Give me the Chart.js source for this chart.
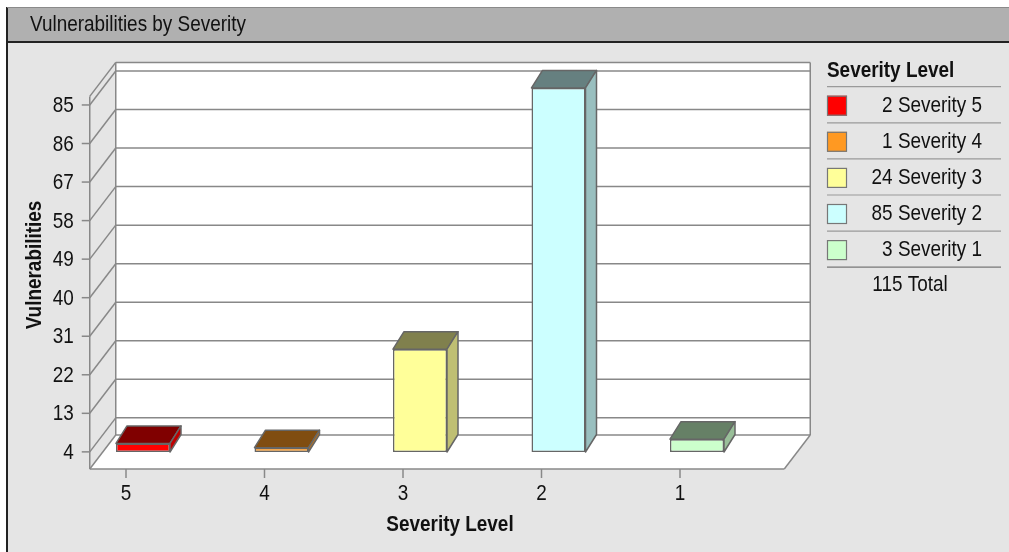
<!DOCTYPE html>
<html>
<head>
<meta charset="utf-8">
<title>Vulnerabilities by Severity</title>
<script src="https://cdn.jsdelivr.net/npm/chart.js@4.4.1/dist/chart.umd.min.js"></script>
<style>
html, body { margin: 0; padding: 0; background: #fff; }
canvas { display: block; }
</style>
</head>
<body>
<canvas id="myChart" width="1009" height="552"></canvas>
<script>
// data
var severityLabels = ['5', '4', '3', '2', '1'];
var severityCounts = [2, 1, 24, 85, 3];
var legendNames = ['Severity 5', 'Severity 4', 'Severity 3', 'Severity 2', 'Severity 1'];
var yTickValues = [4, 13, 22, 31, 40, 49, 58, 67, 76, 85];
var yTickLabels = ['4', '13', '22', '31', '40', '49', '58', '67', '86', '85'];
var barColors = ['#ff0000', '#ff9922', '#ffff99', '#ccffff', '#ccffcc'];

var FONT = '"Liberation Sans", Arial, sans-serif';
var NARROW = 0.86;                // no condensed face installed, squeeze it
var WALL_DX = 13, WALL_DY = 17;   // bars stand halfway between front edge and back wall
var BAR_DX = 11, BAR_DY = 17.5;
var GRID = '#888888';

function shade(hex, f) {
    var n = parseInt(hex.slice(1), 16);
    var r = Math.round(((n >> 16) & 255) * f), g = Math.round(((n >> 8) & 255) * f), b = Math.round((n & 255) * f);
    return 'rgb(' + r + ',' + g + ',' + b + ')';
}

function line(c, x1, y1, x2, y2) {
    c.beginPath(); c.moveTo(x1, y1); c.lineTo(x2, y2); c.stroke();
}

// condensed text
function text(c, str, x, y, align, bold, rot) {
    c.save();
    c.translate(x, y);
    if (rot) c.rotate(rot);
    c.scale(NARROW, 1);
    c.font = (bold ? 'bold ' : '') + '22px ' + FONT;
    c.textAlign = align;
    c.textBaseline = 'middle';
    c.fillStyle = '#111';
    c.fillText(str, 0, 0);
    c.restore();
}

var boxPlugin = {
    id: 'box3d',
    beforeDraw: function (chart) {
        var c = chart.ctx, a = chart.chartArea, yS = chart.scales.y, xS = chart.scales.x;
        var W = chart.width, H = chart.height;
        c.save();
        // panel + title bar
        c.fillStyle = '#ffffff'; c.fillRect(0, 0, W, H);
        c.fillStyle = '#e5e5e5'; c.fillRect(7, 8, W, H);
        c.fillStyle = '#b0b0b0'; c.fillRect(7, 8, W, 34);
        c.fillStyle = '#222'; c.fillRect(6, 7, 2, H);
        c.fillRect(7, 41, W, 2);
        c.fillStyle = '#8a8a8a'; c.fillRect(7, 7, W, 1);
        text(c, 'Vulnerabilities by Severity', 30, 25, 'left');

        // wall frame (bar plane coordinates)
        var wl = a.left + 29, wr = a.right + 31;
        var yTop = a.top, y0 = yS.getPixelForValue(0);
        var bl = wl + WALL_DX, br = wr + WALL_DX, fl = wl - WALL_DX, fr = wr - WALL_DX;

        // back wall
        c.fillStyle = '#ffffff';
        c.fillRect(bl, yTop - WALL_DY, br - bl, y0 - yTop);
        // floor
        c.beginPath();
        c.moveTo(bl, y0 - WALL_DY); c.lineTo(br, y0 - WALL_DY);
        c.lineTo(fr, y0 + WALL_DY); c.lineTo(fl, y0 + WALL_DY);
        c.closePath(); c.fill();

        c.strokeStyle = GRID; c.lineWidth = 1.5;
        // frame edges
        line(c, bl, yTop - WALL_DY, br, yTop - WALL_DY);
        line(c, fl, yTop + WALL_DY, bl, yTop - WALL_DY);
        line(c, bl, yTop - WALL_DY, bl, y0 - WALL_DY);
        line(c, br, yTop - WALL_DY, br, y0 - WALL_DY);
        line(c, fl, yTop + WALL_DY, fl, y0 + WALL_DY);
        line(c, bl, y0 - WALL_DY, br, y0 - WALL_DY);
        line(c, fl, y0 + WALL_DY, bl, y0 - WALL_DY);
        line(c, br, y0 - WALL_DY, fr, y0 + WALL_DY);
        line(c, fl, y0 + WALL_DY, fr, y0 + WALL_DY);

        // value gridlines + ticks
        yTickValues.forEach(function (v, i) {
            var y = yS.getPixelForValue(v);
            line(c, bl, y - WALL_DY, br, y - WALL_DY);
            line(c, fl, y + WALL_DY, bl, y - WALL_DY);
            line(c, fl - 8, y + WALL_DY, fl, y + WALL_DY);
            text(c, yTickLabels[i], fl - 16, y + WALL_DY + 1, 'right');
        });

        // category ticks on the front edge
        severityLabels.forEach(function (lab, i) {
            var x = xS.getPixelForValue(i) - 17;
            line(c, x, y0 + WALL_DY, x, y0 + WALL_DY + 9);
            text(c, lab, x, y0 + WALL_DY + 25, 'center');
        });

        // axis titles
        text(c, 'Severity Level', 450, 525, 'center', true);
        text(c, 'Vulnerabilities', 35, 265, 'center', true, -Math.PI / 2);
        c.restore();
    },
    afterDatasetsDraw: function (chart) {
        var c = chart.ctx, meta = chart.getDatasetMeta(0);
        c.save();
        c.strokeStyle = '#666'; c.lineWidth = 1.5; c.lineJoin = 'round';
        meta.data.forEach(function (bar, i) {
            var p = bar.getProps(['x', 'y', 'base', 'width'], true);
            var x0 = p.x - p.width / 2, x1 = p.x + p.width / 2;
            var col = barColors[i];
            // top face
            c.fillStyle = shade(col, 0.5);
            c.beginPath();
            c.moveTo(x0, p.y); c.lineTo(x0 + BAR_DX, p.y - BAR_DY);
            c.lineTo(x1 + BAR_DX, p.y - BAR_DY); c.lineTo(x1, p.y);
            c.closePath(); c.fill(); c.stroke();
            // side face
            c.fillStyle = shade(col, 0.75);
            c.beginPath();
            c.moveTo(x1, p.y); c.lineTo(x1 + BAR_DX, p.y - BAR_DY);
            c.lineTo(x1 + BAR_DX, p.base - BAR_DY); c.lineTo(x1, p.base);
            c.closePath(); c.fill(); c.stroke();
        });
        c.restore();
    },
    afterDraw: function (chart) {
        var c = chart.ctx;
        var lx = 827, rx = 1001, top = 86.7, step = 36.1;
        c.save();
        text(c, 'Severity Level', lx, 71, 'left', true);
        c.lineWidth = 1.2;
        var total = 0;
        severityCounts.forEach(function (n, i) {
            total += n;
            var y = top + i * step;
            c.strokeStyle = '#9a9a9a';
            line(c, lx, y, rx, y);
            c.fillStyle = barColors[i];
            c.fillRect(lx, y + 9, 20, 20);
            c.strokeStyle = '#777';
            c.strokeRect(lx + 0.5, y + 9.5, 19, 19);
            text(c, n + ' ' + legendNames[i], 982, y + 19, 'right');
        });
        var yEnd = top + severityCounts.length * step;
        c.strokeStyle = '#777';
        line(c, lx, yEnd, rx, yEnd);
        text(c, total + ' Total', 910, yEnd + 18, 'center');
        c.restore();
    }
};

var ctx = document.getElementById('myChart').getContext('2d');
var myChart = new Chart(ctx, {
    type: 'bar',
    data: {
        labels: severityLabels,
        datasets: [{
            label: 'Vulnerabilities',
            data: severityCounts,
            backgroundColor: barColors,
            borderColor: '#666666',
            borderWidth: 1.5,
            borderSkipped: false,
            categoryPercentage: 1,
            barPercentage: 0.39
        }]
    },
    options: {
        responsive: false,
        animation: false,
        devicePixelRatio: 1,
        layout: { padding: { left: 73.75, right: 242.75, top: 79.4, bottom: 100 } },
        plugins: { legend: { display: false }, tooltip: { enabled: false } },
        scales: {
            x: { display: false, offset: true },
            y: { display: false, min: 0, max: 87 }
        }
    },
    plugins: [boxPlugin]
});
</script>
</body>
</html>
